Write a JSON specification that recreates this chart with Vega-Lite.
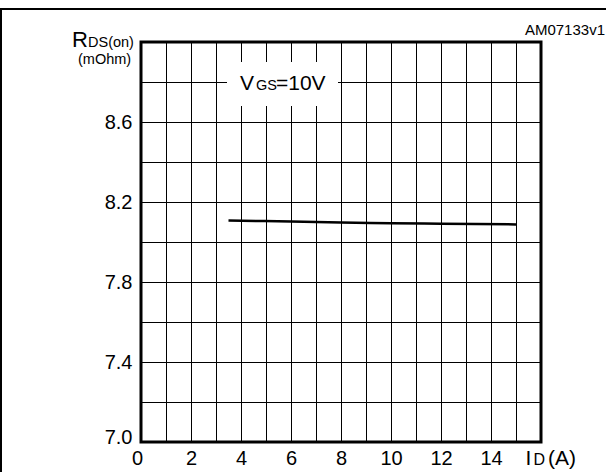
{
  "$schema": "https://vega.github.io/schema/vega-lite/v6.json",
  "width": 400,
  "height": 400,
  "autosize": {"type": "none"},
  "padding": {"left": 141, "top": 42, "right": 65, "bottom": 30},
  "background": "white",
  "config": {
    "font": "Liberation Sans",
    "view": {"stroke": "black", "strokeWidth": 3},
    "axis": {
      "domain": false,
      "ticks": false,
      "grid": true,
      "gridColor": "black",
      "gridWidth": 1,
      "gridOpacity": 1,
      "labelColor": "black",
      "labelFont": "Liberation Sans",
      "labelFontSize": 20,
      "title": null
    }
  },
  "datasets": {
    "curve": [
      {"id": 3.5, "rds": 8.108},
      {"id": 6, "rds": 8.102},
      {"id": 8, "rds": 8.097},
      {"id": 10, "rds": 8.094},
      {"id": 12, "rds": 8.091},
      {"id": 15, "rds": 8.088}
    ],
    "bigText": [
      {"id": 3.96, "rds": 8.76, "text": "V"},
      {"id": 5.4, "rds": 8.76, "text": "=10V"},
      {"id": 15.38, "rds": 6.885, "text": "I"},
      {"id": 16.28, "rds": 6.885, "text": "(A)"}
    ],
    "rText": [
      {"id": -2.12, "rds": 8.9775, "text": "R"}
    ],
    "smallText": [
      {"id": -2.12, "rds": 8.9775, "text": "DS(on)"},
      {"id": -2.52, "rds": 8.89, "text": "(mOhm)"},
      {"id": 4.6, "rds": 8.76, "text": "GS"}
    ],
    "subD": [
      {"id": 15.7, "rds": 6.885, "text": "D"}
    ],
    "code": [
      {"id": 18.56, "rds": 9.035, "text": "AM07133v1"}
    ],
    "legendBox": [
      {"id": 3.44, "id2": 7.88, "rds": 8.68, "rds2": 8.9}
    ],
    "frameTop": [
      {"id": -5.7, "id2": 18.7, "rds": 9.165}
    ],
    "frameLeft": [
      {"id": -5.6, "rds": 6.8, "rds2": 9.17}
    ]
  },
  "encoding": {
    "x": {
      "field": "id",
      "type": "quantitative",
      "scale": {"domain": [0, 16], "nice": false, "zero": false},
      "axis": {
        "values": [0, 1, 2, 3, 4, 5, 6, 7, 8, 9, 10, 11, 12, 13, 14, 15, 16],
        "labelExpr": "datum.value % 2 === 0 && datum.value <= 14 ? datum.label : ' '",
        "labelFlush": false,
        "labelOverlap": false,
        "labelPadding": 6,
        "labelOffset": {"condition": {"test": "datum.value < 0.5", "value": -4}, "value": 0}
      }
    },
    "y": {
      "field": "rds",
      "type": "quantitative",
      "scale": {"domain": [7, 9], "nice": false, "zero": false},
      "axis": {
        "values": [7, 7.2, 7.4, 7.6, 7.8, 8, 8.2, 8.4, 8.6, 8.8, 9],
        "format": ".1f",
        "labelExpr": "indexof(['7.0','7.4','7.8','8.2','8.6'], datum.label) >= 0 ? datum.label : ' '",
        "labelFlush": false,
        "labelOverlap": false,
        "labelPadding": 9,
        "labelOffset": {"condition": {"test": "datum.value < 7.05", "value": -5}, "value": 0}
      }
    }
  },
  "layer": [
    {
      "data": {"name": "legendBox"},
      "mark": {"type": "rect", "fill": "white", "stroke": null},
      "encoding": {
        "x2": {"field": "id2"},
        "y2": {"field": "rds2"}
      }
    },
    {
      "data": {"name": "curve"},
      "mark": {"type": "line", "color": "black", "strokeWidth": 2.5, "interpolate": "monotone"}
    },
    {
      "data": {"name": "bigText"},
      "mark": {"type": "text", "align": "left", "baseline": "alphabetic", "fontSize": 21, "color": "black"},
      "encoding": {"text": {"field": "text"}}
    },
    {
      "data": {"name": "rText"},
      "mark": {"type": "text", "align": "right", "baseline": "alphabetic", "fontSize": 22, "color": "black"},
      "encoding": {"text": {"field": "text"}}
    },
    {
      "data": {"name": "smallText"},
      "mark": {"type": "text", "align": "left", "baseline": "alphabetic", "fontSize": 14.5, "color": "black"},
      "encoding": {"text": {"field": "text"}}
    },
    {
      "data": {"name": "subD"},
      "mark": {"type": "text", "align": "left", "baseline": "alphabetic", "fontSize": 16, "color": "black"},
      "encoding": {"text": {"field": "text"}}
    },
    {
      "data": {"name": "code"},
      "mark": {"type": "text", "align": "right", "baseline": "alphabetic", "fontSize": 15, "color": "black"},
      "encoding": {"text": {"field": "text"}}
    },
    {
      "data": {"name": "frameTop"},
      "mark": {"type": "rule", "color": "black", "strokeWidth": 2},
      "encoding": {"x2": {"field": "id2"}}
    },
    {
      "data": {"name": "frameLeft"},
      "mark": {"type": "rule", "color": "black", "strokeWidth": 2},
      "encoding": {"y2": {"field": "rds2"}}
    }
  ]
}
